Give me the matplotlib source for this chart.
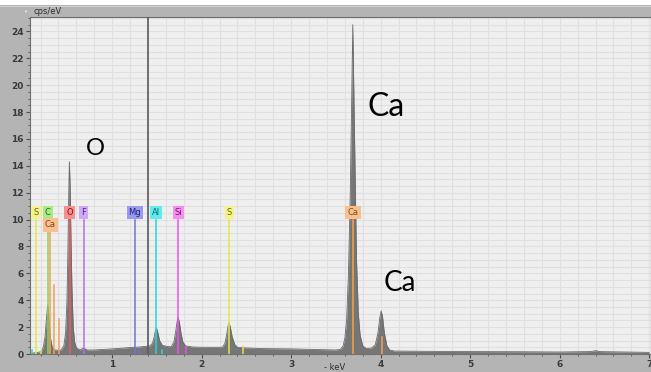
import matplotlib.pyplot as plt
import matplotlib.patches as patches
from matplotlib.ticker import MultipleLocator

# spectrum (keV, cps/eV)
energia = [0.09, 0.15, 0.19, 0.21, 0.23, 0.25, 0.265, 0.28, 0.295, 0.31, 0.33, 0.36, 0.40,
           0.43, 0.46, 0.48, 0.495, 0.505, 0.515, 0.522, 0.53, 0.54, 0.55, 0.565, 0.58, 0.60,
           0.64, 0.68, 0.72, 0.80, 1.00, 1.20, 1.30, 1.42, 1.45, 1.47, 1.485, 1.495, 1.51,
           1.53, 1.56, 1.62, 1.66, 1.69, 1.71, 1.725, 1.736, 1.75, 1.77, 1.79, 1.82, 1.90,
           2.00, 2.15, 2.23, 2.26, 2.28, 2.295, 2.305, 2.32, 2.34, 2.37, 2.40, 2.50, 2.70,
           3.00, 3.30, 3.50, 3.55, 3.58, 3.60, 3.62, 3.64, 3.66, 3.675, 3.688, 3.70, 3.715,
           3.73, 3.75, 3.77, 3.80, 3.84, 3.90, 3.94, 3.97, 3.99, 4.005, 4.02, 4.04, 4.07,
           4.10, 4.15, 4.50, 5.00, 5.50, 6.00, 6.35, 6.40, 6.45, 7.00]
contagens = [0.05, 0.1, 0.15, 0.2, 0.5, 1.3, 2.6, 3.65, 2.6, 1.2, 0.5, 0.3, 0.28,
             0.3, 0.6, 1.6, 4.0, 7.5, 12.0, 14.3, 12.5, 8.5, 5.0, 2.0, 0.9, 0.45,
             0.3, 0.45, 0.3, 0.3, 0.38, 0.48, 0.52, 0.6, 0.8, 1.3, 1.8, 1.93, 1.6,
             1.0, 0.65, 0.55, 0.55, 0.9, 1.7, 2.4, 2.73, 2.4, 1.5, 0.9, 0.6, 0.52,
             0.5, 0.5, 0.5, 0.8, 1.5, 2.1, 2.33, 2.0, 1.3, 0.7, 0.5, 0.45, 0.4,
             0.38, 0.33, 0.3, 0.35, 0.6, 1.2, 2.6, 6.0, 12.0, 18.5, 24.5, 19.5, 13.0,
             7.0, 3.0, 1.4, 0.6, 0.4, 0.45, 0.7, 1.6, 2.7, 3.2, 2.8, 1.6, 0.6,
             0.3, 0.22, 0.2, 0.18, 0.17, 0.15, 0.18, 0.25, 0.18, 0.12]

# element markers: label, energy, label height, line top, box colour, text colour
elementos = ["S", "C", "Ca", "O", "F", "Mg", "Al", "Si", "S", "Ca"]
energias_el = [0.15, 0.28, 0.31, 0.525, 0.685, 1.254, 1.487, 1.74, 2.31, 3.69]
altura_rotulo = [10.5, 10.5, 9.6, 10.5, 10.5, 10.5, 10.5, 10.5, 10.5, 10.5]
topo_linha = [10.0, 9.2, 9.2, 10.0, 10.0, 10.0, 10.0, 10.0, 10.0, 10.0]
cor_linha = ["#e6e64a", "#7ed957", "#f5a05a", "#f05a5a", "#b070f0", "#7070e8",
             "#20d8d8", "#f050f0", "#e6e64a", "#f5a05a"]
cor_caixa = ["#f3f38a", "#a8ec88", "#f8c090", "#f59090", "#d0a8f8", "#9a9af0",
             "#60ecec", "#f590f0", "#f3f38a", "#f8c090"]
cor_texto = ["#6a6a10", "#2d6a10", "#8a4a10", "#8a1010", "#5a2090", "#20207a",
             "#0a6a6a", "#7a107a", "#6a6a10", "#8a4a10"]

# extra short lines (energy, top, colour)
linhas_extra_x = [0.345, 0.41, 0.10, 0.20, 1.30, 1.56, 1.83, 2.46, 4.01]
linhas_extra_y = [5.1, 2.6, 0.3, 0.3, 0.3, 0.3, 0.5, 0.6, 1.3]
linhas_extra_cor = ["#f5a05a", "#f5a05a", "#20d8d8", "#e6e64a", "#7070e8",
                    "#20d8d8", "#f050f0", "#e6e64a", "#f5a05a"]

fig = plt.figure(figsize=(6.51, 3.72), dpi=100, facecolor="#b4b4b4")
fig.patches.append(patches.Rectangle((0, 1 - 5 / 372), 1, 5 / 372, transform=fig.transFigure,
                                     facecolor="white", edgecolor="none", zorder=0))
ax = fig.add_axes([30 / 651, 18 / 372, 621 / 651, 337 / 372])
ax.set_facecolor("#efefef")

ax.set_xlim(0.082, 7.02)
ax.set_ylim(0, 25.07)
ax.xaxis.set_major_locator(MultipleLocator(1))
ax.xaxis.set_minor_locator(MultipleLocator(0.2))
ax.yaxis.set_major_locator(MultipleLocator(2))
ax.yaxis.set_minor_locator(MultipleLocator(0.5))
ax.grid(which="both", color="#e0e0e0", lw=0.8)
ax.set_axisbelow(True)

ax.fill_between(energia, contagens, color="#767676", lw=0, zorder=2)
ax.plot(energia, contagens, color="#6a6a6a", lw=0.6, zorder=2)

# cursor
ax.axvline(1.395, color="#5a5a5a", lw=1.2, zorder=3)

for nome, e, yr, yt, cl, cb, ct in zip(elementos, energias_el, altura_rotulo, topo_linha,
                                       cor_linha, cor_caixa, cor_texto):
    ax.plot([e, e], [0, yt], color=cl, lw=1.1, zorder=4)
    ax.text(e, yr, nome, ha="center", va="center", fontsize=6, color=ct, zorder=5,
            bbox=dict(boxstyle="square,pad=0.25", fc=cb, ec="none"))
for e, yt, c in zip(linhas_extra_x, linhas_extra_y, linhas_extra_cor):
    ax.plot([e, e], [0, yt], color=c, lw=1.1, zorder=4)

ax.text(0.807, 15.3, "O", fontsize=17, family="Lato", ha="center", va="center", zorder=6)
ax.text(4.06, 18.4, "Ca", fontsize=23, family="Lato", ha="center", va="center", zorder=6)
ax.text(4.21, 5.3, "Ca", fontsize=20, family="Lato", ha="center", va="center", zorder=6)

ax.tick_params(which="major", length=3, width=0.8, color="#505050", labelsize=6.5,
               labelcolor="#3a3a3a", pad=1.5)
ax.tick_params(which="minor", length=1.5, width=0.6, color="#505050")
ax.set_yticklabels([str(int(v)) for v in ax.get_yticks()])
ax.set_xticklabels([str(int(v)) for v in ax.get_xticks()])
for lab in ax.get_xticklabels() + ax.get_yticklabels():
    lab.set_fontweight("bold")
ax.get_xticklabels()[-1].set_horizontalalignment("right")
for s in ax.spines.values():
    s.set_color("#707070")
    s.set_linewidth(0.8)

fig.text(33 / 651, 1 - 11 / 372, "cps/eV", fontsize=6, color="#303030", va="center")
fig.text(25 / 651, 1 - 11 / 372, "\u25b8", fontsize=4, color="#e0e0e0", va="center")
fig.text(335 / 651, 5 / 372, "- keV", fontsize=6, color="#303030", va="center", ha="center")
fig.add_artist(plt.Line2D([0, 1], [1 - 5.5 / 372, 1 - 5.5 / 372], color="#d8d8d8", lw=0.6))

plt.savefig("out.png", dpi=100, facecolor=fig.get_facecolor())
